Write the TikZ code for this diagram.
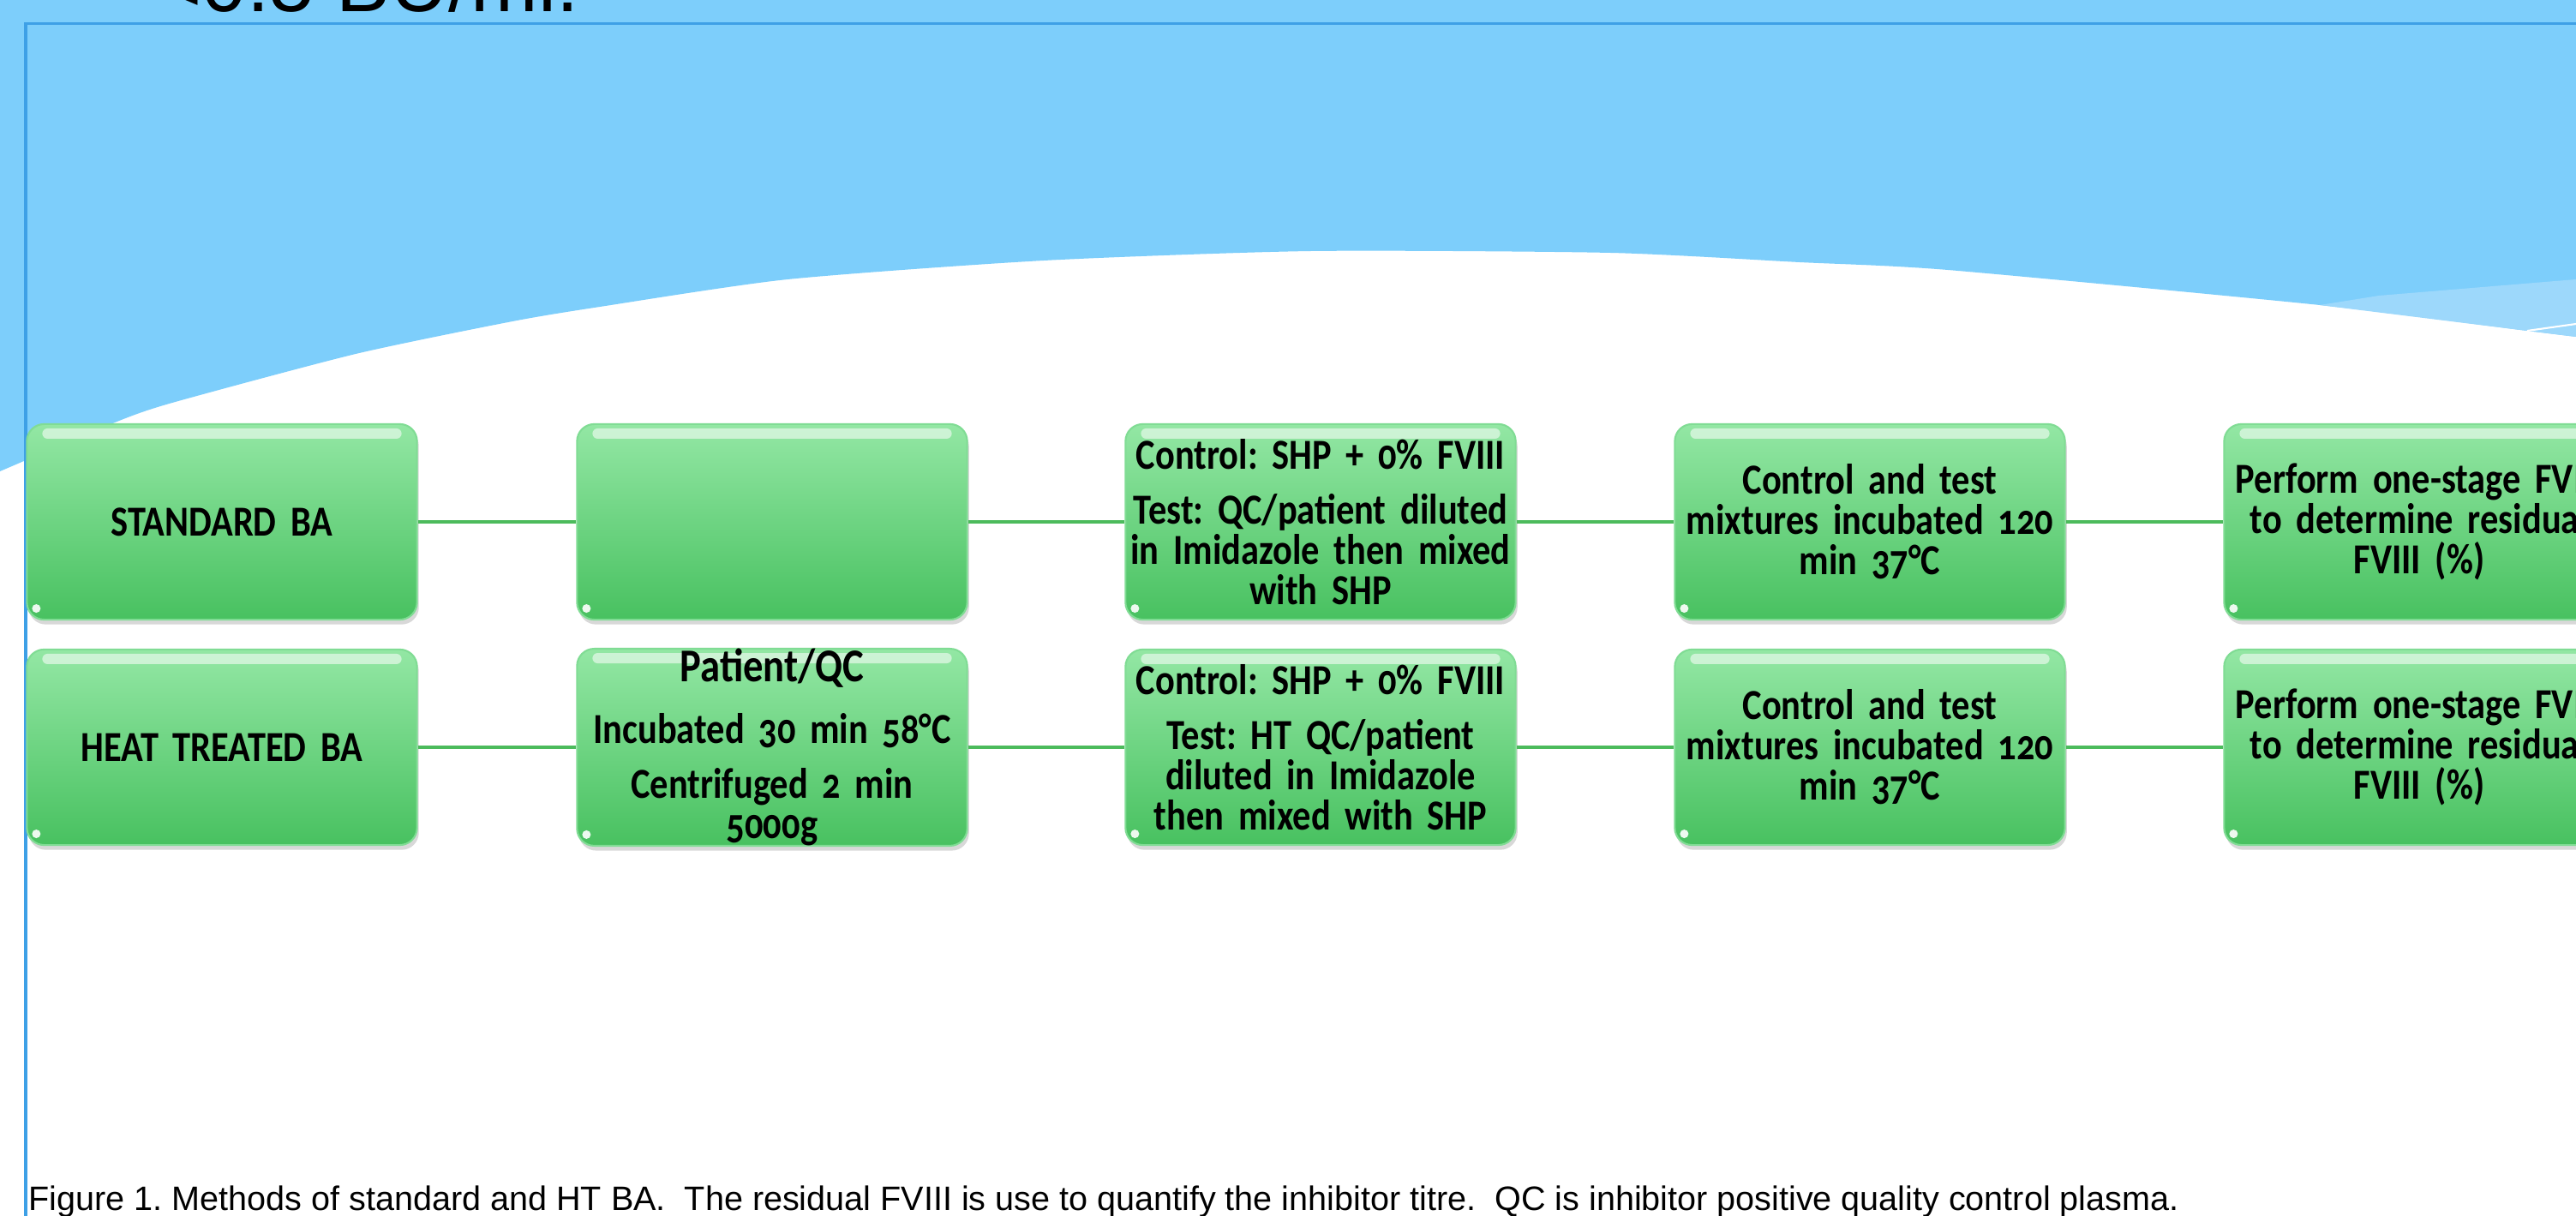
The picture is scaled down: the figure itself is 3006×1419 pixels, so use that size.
\documentclass[tikz,border=0pt]{standalone}
\usepackage{fontspec}
\setmainfont{Liberation Sans}
\newfontfamily\boxfont[Numbers=OldStyle, FakeStretch=0.85]{Carlito}
\usetikzlibrary{shadows}
\definecolor{skyblue}{RGB}{125,206,251}
\definecolor{paleblue}{RGB}{157,216,251}
\definecolor{frameblue}{RGB}{62,160,230}
\definecolor{boxtop}{RGB}{147,231,164}
\definecolor{boxbot}{RGB}{72,193,96}
\definecolor{boxrim}{RGB}{128,220,148}
\definecolor{linkgreen}{RGB}{76,187,92}

\begin{document}
\frenchspacing
\begin{tikzpicture}[x=0.01cm,y=-0.01cm]
    \tikzset{%
      stepbox/.style={rectangle, rounded corners=0.2cm, minimum width=4.55cm,
        minimum height=2.28cm, inner sep=0pt, text width=4.55cm, align=center,
        top color=boxtop, bottom color=boxbot, draw=boxrim, line width=0.6pt,
        drop shadow={shadow xshift=0.6pt, shadow yshift=-1.6pt, opacity=.3},
        font=\boxfont\bfseries\fontsize{14.2}{13.4}\selectfont,
        path picture={
          \fill[white, opacity=.55, rounded corners=0.06cm]
            ([xshift=0.18cm, yshift=-0.05cm]path picture bounding box.north west)
            rectangle ([xshift=-0.18cm, yshift=-0.17cm]path picture bounding box.north east);
          \fill[white, opacity=.9]
            ([xshift=0.11cm, yshift=0.13cm]path picture bounding box.south west) circle (0.05cm);
        }},
      link/.style={linkgreen, line width=0.045cm},
    }
    \useasboundingbox (0,0) rectangle (3006,1419);
    \clip (0,0) rectangle (3006,1419);

    % background wave
    \fill[white] (0,0) rectangle (3006,1419);
    \fill[skyblue] (0,0) -- plot[smooth, tension=.4] coordinates {(0,550) (134,493)
      (201,470) (415,413) (598,375) (700,358) (919,326) (1218,304) (1530,293)
      (1879,295) (2100,306) (2273,315) (2707,356) (2949,386) (3006,393)}
      -- (3006,0) -- cycle;
    \fill[paleblue] (2707,356) -- (2776,345) -- (3006,326) -- (3006,393)
      -- (2949,386) -- cycle;
    \draw[white, line width=0.6pt] (2949,386) -- (3006,378);
    \draw[frameblue, line width=0.03cm] (3006,28) -- (30,28) -- (30,1419);

    \node[anchor=base west, inner sep=0pt, font=\fontsize{26.8}{32}\selectfont]
      (title) at (180,14) {<0.5 BU/ml.};

    % standard BA
    \node[stepbox] (sA) at (259,609) {STANDARD BA};
    \node[stepbox] (sB) at (901,609) {};
    \node[stepbox] (sC) at (1541,609) {Control: SHP + 0\% FVIII\\[4.8pt]
      Test: QC/patient diluted\\ in Imidazole then mixed\\ with SHP};
    \node[stepbox] (sD) at (2182,609) {Control and test\\ mixtures incubated 120\\ min 37°C};
    \node[stepbox] (sE) at (2823,609) {Perform one-stage FVIII\\ to determine residual\\ FVIII (\%)};

    \draw[link] (sA) -- (sB);
    \draw[link] (sB) -- (sC);
    \draw[link] (sC) -- (sD);
    \draw[link] (sD) -- (sE);

    % heat treated BA
    \node[stepbox] (hA) at (259,872) {HEAT TREATED BA};
    \node[stepbox] (hB) at (901,872) {{\fontsize{15.6}{15}\selectfont Patient/QC}\\[7pt]
      Incubated 30 min 58°C\\[4.8pt] Centrifuged 2 min\\ 5000g};
    \node[stepbox] (hC) at (1541,872) {Control: SHP + 0\% FVIII\\[4.8pt]
      Test: HT QC/patient\\ diluted in Imidazole\\ then mixed with SHP};
    \node[stepbox] (hD) at (2182,872) {Control and test\\ mixtures incubated 120\\ min 37°C};
    \node[stepbox] (hE) at (2823,872) {Perform one-stage FVIII\\ to determine residual\\ FVIII (\%)};

    \draw[link] (hA) -- (hB);
    \draw[link] (hB) -- (hC);
    \draw[link] (hC) -- (hD);
    \draw[link] (hD) -- (hE);

    \node[anchor=base west, inner sep=0pt, font=\fontsize{11.25}{13}\selectfont]
      (caption) at (33,1412) {Figure 1. Methods of standard and HT BA.~ The residual
      FVIII is use to quantify the inhibitor titre.~ QC is inhibitor positive quality
      control plasma.};
\end{tikzpicture}
\end{document}
